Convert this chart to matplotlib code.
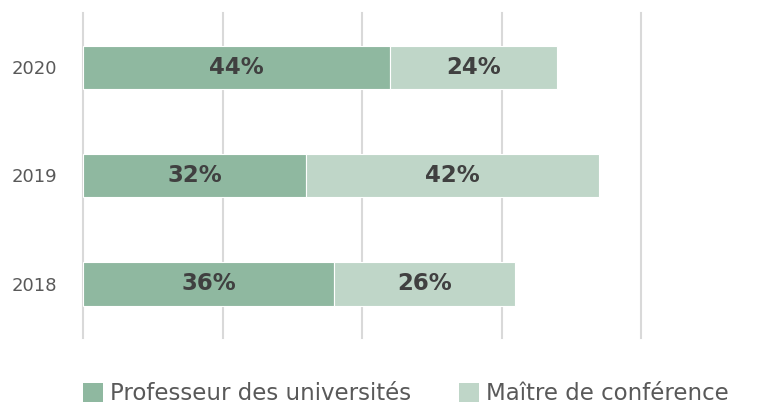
import matplotlib
matplotlib.use("Agg")
import matplotlib.pyplot as plt
from matplotlib.patches import Patch

plt.rcParams['font.family'] = ['DejaVu Sans']

years = ["2018", "2019", "2020"]
professeurs = [36, 32, 44]
maitres = [26, 42, 24]
series_names = ["Professeur des universités", "Maître de conférence"]
colors = ["#8FB8A0", "#BFD6C8"]

fig = plt.figure(figsize=(7.68, 4.07), dpi=100)
ax = fig.add_axes([83 / 768, 1 - 338 / 407, (641 - 83) / 768, (338 - 13) / 407])

y = range(len(years))
ax.barh(y, professeurs, height=0.4, color=colors[0], edgecolor="white", linewidth=0.8, zorder=2)
ax.barh(y, maitres, left=professeurs, height=0.4, color=colors[1], edgecolor="white", linewidth=0.8, zorder=2)

for vals, lefts in ((professeurs, [0] * 3), (maitres, professeurs)):
    for yi, v, l in zip(y, vals, lefts):
        ax.text(l + v / 2, yi, f"{v}%", ha="center", va="center",
                fontsize=16.5, fontweight="bold", color="#404040", zorder=3)

ax.set_xlim(0, 80)
ax.set_ylim(-0.5, 2.5)
ax.set_xticks([0, 20, 40, 60, 80])
ax.xaxis.grid(True, color="#D9D9D9", linewidth=1.5, zorder=0)
for gl in ax.get_xgridlines():
    gl.set_clip_on(False)
ax.set_axisbelow(True)
ax.tick_params(axis="x", length=0, labelbottom=False)
ax.tick_params(axis="y", length=0, pad=18.5, labelsize=13, labelcolor="#595959")
ax.set_yticks(list(y))
ax.set_yticklabels(years)
for s in ax.spines.values():
    s.set_visible(False)

handles = [Patch(facecolor=c, edgecolor="none") for c in colors]
fig.legend(handles, series_names, loc="center left", bbox_to_anchor=(83 / 768, 1 - 394 / 407),
           ncol=2, frameon=False, fontsize=16.5, labelcolor="#595959",
           borderpad=0, borderaxespad=0,
           handlelength=0.87, handleheight=0.87, handletextpad=0.3, columnspacing=2.1)

fig.savefig("out.png", dpi=100)
